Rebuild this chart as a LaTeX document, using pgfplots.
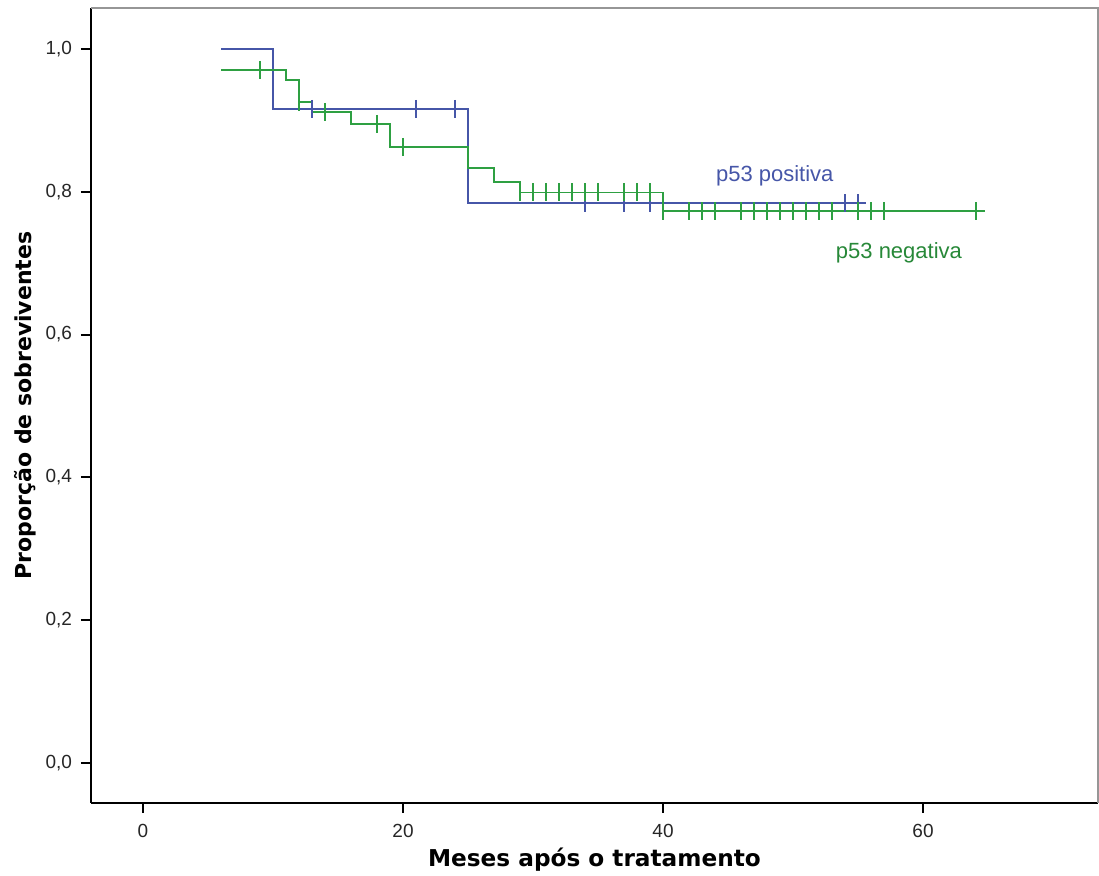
\documentclass[border=0pt]{standalone}
\usepackage{pgfplots}
\pgfplotsset{compat=1.18}
\usepackage{fontspec}
\setmainfont{Liberation Sans}
\newfontfamily\labfont{DejaVu Sans}
\definecolor{kmblue}{RGB}{70,86,168}
\definecolor{kmgreen}{RGB}{46,160,66}
\definecolor{framegray}{RGB}{150,150,150}

\begin{document}
\begin{tikzpicture}
\begin{axis}[
    scale only axis,
    width=503.5pt, height=397.5pt,
    xmin=-4, xmax=73.46,
    ymin=-0.056, ymax=1.0574,
    axis lines*=left,
    axis line style={black, line width=1.2pt},
    xtick={0,20,40,60},
    ytick={0,0.2,0.4,0.6,0.8,1.0},
    yticklabels={0{,}0,0{,}2,0{,}4,0{,}6,0{,}8,1{,}0},
    tick align=outside,
    major tick length=5pt,
    tick style={black, line width=1pt},
    /pgf/number format/assume math mode=true,
    ticklabel style={font=\fontsize{9.5}{11}\selectfont, text=black!85},
    xticklabel style={yshift=-2pt},
    yticklabel style={xshift=-1pt},
    xlabel={Meses após o tratamento},
    ylabel={Proporção de sobreviventes},
    xlabel style={at={(axis description cs:0.5,-0.0717)}, anchor=center,
        font=\labfont\bfseries\fontsize{11.6}{13}\selectfont},
    ylabel style={at={(axis description cs:-0.0655,0.5)}, anchor=center,
        font=\labfont\bfseries\fontsize{11}{13}\selectfont},
    clip=false,
]
% frame top and right
\draw[framegray, line width=0.9pt] (rel axis cs:0,1) -- (rel axis cs:1,1) -- (rel axis cs:1,0);

% p53 positiva
\addplot[kmblue, line width=0.9pt, const plot, mark=none] coordinates {
    (6,1.0) (10,0.916) (25,0.784) (55.6,0.784)
};
% p53 negativa
\addplot[kmgreen, line width=0.9pt, const plot, mark=none] coordinates {
    (6,0.9706) (11,0.956) (12,0.926) (13,0.912) (16,0.895) (19,0.863)
    (25,0.833) (27,0.814) (29,0.799) (40,0.773) (64.8,0.773)
};
% censored, positive
\addplot[kmblue, only marks, mark=|, mark size=4.5pt, mark options={line width=0.9pt}] coordinates {
    (13,0.916) (21,0.916) (24,0.916)
    (34,0.784) (37,0.784) (39,0.784) (54,0.784) (55,0.784)
};
% censored, negative
\addplot[kmgreen, only marks, mark=|, mark size=4.5pt, mark options={line width=0.9pt}] coordinates {
    (9,0.9706) (12,0.926) (14,0.912) (18,0.895) (20,0.863)
    (29,0.799) (30,0.799) (31,0.799) (32,0.799) (33,0.799) (34,0.799) (35,0.799)
    (37,0.799) (38,0.799) (39,0.799)
    (40,0.773) (42,0.773) (43,0.773) (44,0.773) (46,0.773) (47,0.773) (48,0.773)
    (49,0.773) (50,0.773) (51,0.773) (52,0.773) (53,0.773) (55,0.773) (56,0.773)
    (57,0.773) (64.1,0.773)
};
\node[text=kmblue, font=\fontsize{11}{13}\selectfont] at (axis cs:48.6,0.822) {p53 positiva};
\node[text=kmgreen!85!black, font=\fontsize{11}{13}\selectfont] at (axis cs:58.15,0.714) {p53 negativa};
\end{axis}
\pgfresetboundingbox
\path (-45.5pt,-36.5pt) rectangle (504pt,401.5pt);
\end{tikzpicture}
\end{document}
